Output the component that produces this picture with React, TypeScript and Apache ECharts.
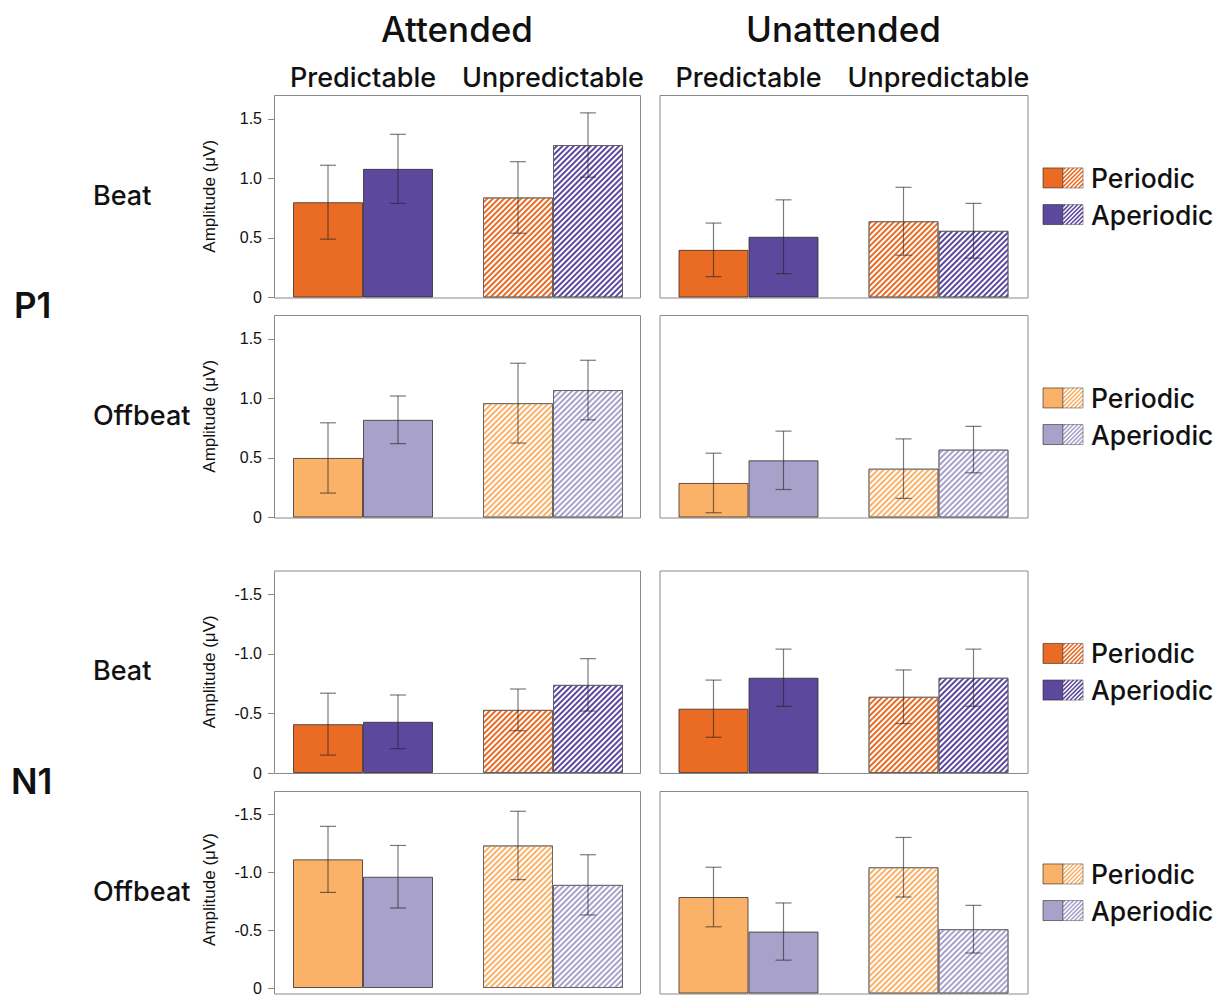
import React, { useEffect, useRef } from "react";
import * as echarts from "echarts";

// ---------- data ----------
const conditions = ["Predictable", "Unpredictable"];
const attention = ["Attended", "Unattended"];
const components = ["P1", "N1"];
const beatTypes = ["Beat", "Offbeat", "Beat", "Offbeat"];
const rhythm = ["Periodic", "Aperiodic"];
const yName = "Amplitude (μV)";

// order in each array: [Pred-Periodic, Pred-Aperiodic, Unpred-Periodic, Unpred-Aperiodic]
const p1BeatAttended = [0.8, 1.08, 0.84, 1.28];
const p1BeatAttendedSE = [0.31, 0.29, 0.3, 0.27];
const p1BeatUnattended = [0.4, 0.51, 0.64, 0.56];
const p1BeatUnattendedSE = [0.225, 0.31, 0.285, 0.23];
const p1OffbeatAttended = [0.5, 0.82, 0.96, 1.07];
const p1OffbeatAttendedSE = [0.295, 0.2, 0.335, 0.25];
const p1OffbeatUnattended = [0.29, 0.48, 0.41, 0.57];
const p1OffbeatUnattendedSE = [0.25, 0.245, 0.25, 0.195];
const n1BeatAttended = [-0.41, -0.43, -0.53, -0.74];
const n1BeatAttendedSE = [0.26, 0.225, 0.175, 0.22];
const n1BeatUnattended = [-0.54, -0.8, -0.64, -0.8];
const n1BeatUnattendedSE = [0.24, 0.24, 0.225, 0.24];
const n1OffbeatAttended = [-1.11, -0.96, -1.23, -0.89];
const n1OffbeatAttendedSE = [0.285, 0.27, 0.295, 0.26];
const n1OffbeatUnattended = [-0.81, -0.52, -1.06, -0.54];
const n1OffbeatUnattendedSE = [0.25, 0.24, 0.25, 0.2];

const p1Ticks = [0, 0.5, 1, 1.5];
const n1Ticks = [-1.5, -1, -0.5, 0];

// ---------- style / layout ----------
const FONT = 'Inter, "Liberation Sans", sans-serif';
const TICK_FONT = '"Liberation Sans", Arial, sans-serif';
const BEAT_COLORS = ["#E96B24", "#5C499E"];
const OFFBEAT_COLORS = ["#F9B268", "#A8A2CB"];
const BAR_W = 70;
const ROW_TOPS = [95, 315, 570.5, 791];
const PANEL_H = 202.5;
const FRAME_LEFT = [274, 659.5];
const FRAME_W = [366, 368];
const GRID_W = 380;

const panels = [
  { m: p1BeatAttended, se: p1BeatAttendedSE },
  { m: p1BeatUnattended, se: p1BeatUnattendedSE },
  { m: p1OffbeatAttended, se: p1OffbeatAttendedSE },
  { m: p1OffbeatUnattended, se: p1OffbeatUnattendedSE },
  { m: n1BeatAttended, se: n1BeatAttendedSE },
  { m: n1BeatUnattended, se: n1BeatUnattendedSE },
  { m: n1OffbeatAttended, se: n1OffbeatAttendedSE },
  { m: n1OffbeatUnattended, se: n1OffbeatUnattendedSE },
];

function hatchDecal(color: string) {
  return {
    symbol: "rect",
    symbolSize: 1,
    dashArrayX: [1, 0],
    dashArrayY: [1.6, 1.4],
    rotation: -Math.PI / 4,
    color,
  };
}

function hatchLines(x0: number, y0: number, s: number, color: string) {
  const out: any[] = [];
  const step = 4.2;
  for (let c = step / 2; c < 2 * s; c += step) {
    const ua = Math.max(0, c - s);
    const ub = Math.min(s, c);
    out.push({
      type: "line",
      shape: { x1: x0 + ua, y1: y0 + c - ua, x2: x0 + ub, y2: y0 + c - ub },
      style: { stroke: color, lineWidth: 1.6 },
      silent: true,
    });
  }
  return out;
}

function buildOption() {
  const grid: any[] = [];
  const xAxis: any[] = [];
  const yAxis: any[] = [];
  const series: any[] = [];
  const graphic: any[] = [];

  panels.forEach((p, i) => {
    const row = Math.floor(i / 2);
    const col = i % 2;
    const isN1 = row >= 2;
    const colors = row % 2 === 0 ? BEAT_COLORS : OFFBEAT_COLORS;
    const top = ROW_TOPS[row];
    grid.push({
      left: FRAME_LEFT[col] - 6,
      top,
      width: GRID_W,
      height: PANEL_H,
      containLabel: false,
    });
    xAxis.push({
      type: "category",
      gridIndex: i,
      data: conditions,
      position: "top",
      axisLine: { show: false },
      axisTick: { show: false },
      axisLabel: {
        show: row === 0,
        interval: 0,
        hideOverlap: false,
        fontFamily: FONT,
        fontSize: 27,
        fontWeight: 500,
        color: "#111",
        margin: 4,
      },
    });
    yAxis.push({
      type: "value",
      gridIndex: i,
      min: isN1 ? -1.7 : 0,
      max: isN1 ? 0 : 1.7,
      inverse: isN1,
      offset: -6,
      show: col === 0,
      name: col === 0 ? yName : "",
      nameLocation: "middle",
      nameGap: 56,
      nameRotate: 90,
      nameTextStyle: { fontFamily: TICK_FONT, fontSize: 17, color: "#111" },
      splitLine: { show: false },
      axisLine: { show: false },
      axisTick: {
        show: true,
        length: 6,
        customValues: isN1 ? n1Ticks : p1Ticks,
        lineStyle: { color: "#888", width: 1 },
      },
      axisLabel: {
        customValues: isN1 ? n1Ticks : p1Ticks,
        formatter: (v: number) => (v === 0 ? "0" : v.toFixed(1)),
        fontFamily: TICK_FONT,
        fontSize: 16,
        color: "#111",
        margin: 12,
      },
    });

    rhythm.forEach((name, s) => {
      const color = colors[s];
      series.push({
        type: "bar",
        name,
        xAxisIndex: i,
        yAxisIndex: i,
        barWidth: BAR_W,
        barGap: "0%",
        z: 2,
        data: [
          {
            value: p.m[s],
            itemStyle: { color, borderColor: "rgba(45,35,35,0.75)", borderWidth: 1 },
          },
          {
            value: p.m[2 + s],
            itemStyle: {
              color: "#ffffff",
              borderColor: "rgba(90,90,90,0.75)",
              borderWidth: 1,
              decal: hatchDecal(color),
            },
          },
        ],
      });
    });

    const errData: number[][] = [];
    for (let c = 0; c < 2; c++) {
      for (let s = 0; s < 2; s++) {
        const k = c * 2 + s;
        errData.push([c, s, p.m[k] - p.se[k], p.m[k] + p.se[k]]);
      }
    }
    series.push({
      type: "custom",
      xAxisIndex: i,
      yAxisIndex: i,
      z: 5,
      silent: true,
      clip: false,
      encode: { x: 0, y: [2, 3] },
      data: errData,
      renderItem: (params: any, api: any) => {
        const c = api.value(0);
        const s = api.value(1);
        const a = api.coord([c, api.value(2)]);
        const b = api.coord([c, api.value(3)]);
        const x = a[0] + (s === 0 ? -1 : 1) * (BAR_W / 2);
        const cw = 8;
        const style = { stroke: "rgba(35,35,35,0.6)", lineWidth: 1.2 };
        return {
          type: "group",
          children: [
            { type: "line", shape: { x1: x, y1: a[1], x2: x, y2: b[1] }, style },
            { type: "line", shape: { x1: x - cw, y1: a[1], x2: x + cw, y2: a[1] }, style },
            { type: "line", shape: { x1: x - cw, y1: b[1], x2: x + cw, y2: b[1] }, style },
          ],
        };
      },
    });

    // frame
    graphic.push({
      type: "rect",
      shape: { x: FRAME_LEFT[col] + 0.5, y: top + 0.5, width: FRAME_W[col], height: PANEL_H },
      style: { fill: "none", stroke: "#8a8a8a", lineWidth: 1 },
      z: 1,
      silent: true,
    });
  });

  // column headers
  attention.forEach((t, col) => {
    graphic.push({
      type: "text",
      x: FRAME_LEFT[col] + FRAME_W[col] / 2,
      y: 29,
      style: {
        text: t,
        fontFamily: FONT,
        fontSize: 35,
        fontWeight: 500,
        fill: "#111",
        textAlign: "center",
        textVerticalAlign: "middle",
      },
    });
  });

  // row labels + legends
  beatTypes.forEach((t, row) => {
    const cy = ROW_TOPS[row] + PANEL_H / 2;
    graphic.push({
      type: "text",
      x: 93,
      y: cy - 1,
      style: {
        text: t,
        fontFamily: FONT,
        fontSize: 27,
        fontWeight: 500,
        fill: "#111",
        textAlign: "left",
        textVerticalAlign: "middle",
      },
    });
    const colors = row % 2 === 0 ? BEAT_COLORS : OFFBEAT_COLORS;
    rhythm.forEach((name, s) => {
      const y = cy + (s === 0 ? -18.3 : 18.3);
      const y0 = y - 10;
      graphic.push({
        type: "rect",
        shape: { x: 1043, y: y0, width: 20, height: 20 },
        style: { fill: colors[s], stroke: "rgba(45,35,35,0.6)", lineWidth: 1 },
      });
      graphic.push({
        type: "rect",
        shape: { x: 1063, y: y0, width: 20, height: 20 },
        style: { fill: "#fff" },
      });
      hatchLines(1063, y0, 20, colors[s]).forEach((l) => graphic.push(l));
      graphic.push({
        type: "rect",
        shape: { x: 1063, y: y0, width: 20, height: 20 },
        style: { fill: "none", stroke: "rgba(90,90,90,0.6)", lineWidth: 1 },
      });
      graphic.push({
        type: "text",
        x: 1091,
        y,
        style: {
          text: name,
          fontFamily: FONT,
          fontSize: 26.5,
          fontWeight: 500,
          fill: "#111",
          textAlign: "left",
          textVerticalAlign: "middle",
        },
      });
    });
  });

  // component labels
  components.forEach((t, k) => {
    const cy = (ROW_TOPS[k * 2] + ROW_TOPS[k * 2 + 1] + PANEL_H) / 2;
    graphic.push({
      type: "text",
      x: k === 0 ? 14 : 11,
      y: cy - 1,
      style: {
        text: t,
        fontFamily: FONT,
        fontSize: 35,
        fontWeight: 600,
        fill: "#111",
        textAlign: "left",
        textVerticalAlign: "middle",
      },
    });
  });

  return {
    animation: false,
    backgroundColor: "#ffffff",
    grid,
    xAxis,
    yAxis,
    series,
    graphic: { elements: graphic },
  };
}

export default function App() {
  const ref = useRef<HTMLDivElement>(null);
  useEffect(() => {
    document.body.style.margin = "0";
    if (!ref.current) return;
    const chart = echarts.init(ref.current, undefined, { renderer: "svg" });
    chart.setOption(buildOption() as any);
    return () => chart.dispose();
  }, []);
  return <div ref={ref} style={{ width: 1217, height: 996 }} />;
}
